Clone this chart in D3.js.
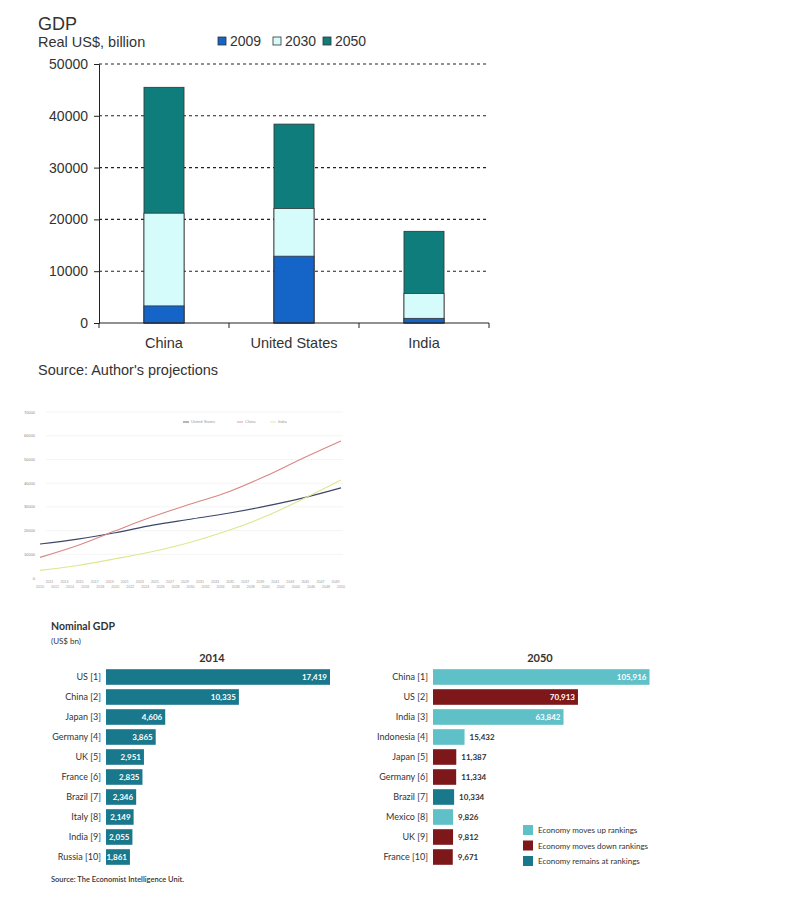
<!DOCTYPE html>
<html lang="en">
<head>
<meta charset="UTF-8">
<title>GDP projections</title>
<script src="https://cdn.jsdelivr.net/npm/d3@7"></script>
<style>
  body { margin: 0; background: #fff; }
  svg text { font-family: "Liberation Sans", Arial, sans-serif; }
  .eiu text { font-family: Lato, "Open Sans", sans-serif; }
</style>
</head>
<body>
<svg id="mainsvg" width="800" height="919"></svg>
<script>
// ---- chart 1: real GDP, overlapping bars ----
const gdpCountries = ["China", "United States", "India"];
const gdpYears = ["2009", "2030", "2050"];
const gdp2009 = [3300, 12900, 900];
const gdp2030 = [21200, 22100, 5700];
const gdp2050 = [45500, 38400, 17700];
const gdpTicks = [0, 10000, 20000, 30000, 40000, 50000];

// ---- chart 2: small line chart ----
const lineSeries = ["United States", "China", "India"];
const lineYears = [2010, 2015, 2020, 2025, 2030, 2035, 2040, 2045, 2050];
const lineUS = [14300, 16400, 19100, 22300, 24800, 27300, 30300, 33800, 38000];
const lineChina = [8700, 13700, 19900, 25900, 31200, 36300, 43000, 50600, 57800];
const lineIndia = [3200, 5300, 8100, 11200, 15100, 20000, 26000, 33400, 41300];
const lineTicks = [0, 10000, 20000, 30000, 40000, 50000, 60000, 70000];

// ---- chart 3: nominal GDP rankings ----
const rank2014 = ["US [1]", "China [2]", "Japan [3]", "Germany [4]", "UK [5]", "France [6]", "Brazil [7]", "Italy [8]", "India [9]", "Russia [10]"];
const value2014 = [17419, 10335, 4606, 3865, 2951, 2835, 2346, 2149, 2055, 1861];
const rank2050 = ["China [1]", "US [2]", "India [3]", "Indonesia [4]", "Japan [5]", "Germany [6]", "Brazil [7]", "Mexico [8]", "UK [9]", "France [10]"];
const value2050 = [105916, 70913, 63842, 15432, 11387, 11334, 10334, 9826, 9812, 9671];
const move2050 = ["up", "down", "up", "up", "down", "down", "same", "up", "down", "down"];
const moveLabels = ["Economy moves up rankings", "Economy moves down rankings", "Economy remains at rankings"];

const svg = d3.select('#mainsvg');
svg.append('rect').attr('width', 800).attr('height', 919).attr('fill', '#fff');

// ================= chart 1 =================
const c1 = svg.append('g');
const txt = '#333';

c1.append('text').attr('x', 38).attr('y', 30).attr('font-size', 18).attr('fill', txt).text('GDP');
c1.append('text').attr('x', 38).attr('y', 47).attr('font-size', 14.5).attr('fill', txt).text('Real US$, billion');

const barColor = {"2009": "#1565c8", "2030": "#d6fbfb", "2050": "#0f7d7b"};

const x1 = d3.scaleBand().domain(gdpCountries).range([99, 489]).paddingInner(0.692).paddingOuter(0.346);
const y1 = d3.scaleLinear().domain([0, 50000]).range([323, 64]);

// gridlines
c1.append('g').selectAll('line').data(gdpTicks.slice(1)).join('line')
  .attr('x1', 99).attr('x2', 489)
  .attr('y1', d => y1(d)).attr('y2', d => y1(d))
  .attr('stroke', '#222').attr('stroke-width', 1.1).attr('stroke-dasharray', '3,3');

const yAxis1 = c1.append('g').attr('transform', 'translate(99,0)')
  .call(d3.axisLeft(y1).tickValues(gdpTicks).tickSize(5).tickPadding(6).tickFormat(d3.format('d')));
yAxis1.select('.domain').attr('stroke', '#222');
yAxis1.selectAll('line').attr('stroke', '#222');
yAxis1.selectAll('text').attr('font-size', 14).attr('fill', txt).attr('font-family', '"Liberation Sans", Arial, sans-serif');

// bars: largest first so smaller ones sit on top
const barSets = [["2050", gdp2050], ["2030", gdp2030], ["2009", gdp2009]];
barSets.forEach(([yr, vals]) => {
  c1.append('g').selectAll('rect').data(vals).join('rect')
    .attr('x', (d, i) => x1(gdpCountries[i]))
    .attr('width', x1.bandwidth())
    .attr('y', d => y1(d))
    .attr('height', d => y1(0) - y1(d))
    .attr('fill', barColor[yr])
    .attr('stroke', '#333').attr('stroke-width', 0.8);
});

// x axis with ticks at category borders
c1.append('line').attr('x1', 99).attr('x2', 489).attr('y1', y1(0)).attr('y2', y1(0)).attr('stroke', '#222');
c1.append('g').selectAll('line').data(d3.range(gdpCountries.length + 1)).join('line')
  .attr('x1', i => 99 + i * x1.step()).attr('x2', i => 99 + i * x1.step())
  .attr('y1', y1(0)).attr('y2', y1(0) + 5).attr('stroke', '#222');
c1.append('g').selectAll('text').data(gdpCountries).join('text')
  .attr('x', d => x1(d) + x1.bandwidth() / 2).attr('y', 348)
  .attr('text-anchor', 'middle').attr('font-size', 14.5).attr('fill', txt)
  .text(d => d);

// legend
const legX = [218, 273, 323];
const leg1 = c1.append('g').selectAll('g').data(gdpYears).join('g')
  .attr('transform', (d, i) => `translate(${legX[i]},37)`);
leg1.append('rect').attr('width', 8).attr('height', 8).attr('fill', d => barColor[d]).attr('stroke', '#333').attr('stroke-width', 0.8);
leg1.append('text').attr('x', 12).attr('y', 8.5).attr('font-size', 14).attr('fill', txt).text(d => d);

c1.append('text').attr('x', 38).attr('y', 375).attr('font-size', 14.5).attr('fill', txt).text("Source: Author's projections");

// ================= chart 2 =================
const c2 = svg.append('g');
const x2 = d3.scaleLinear().domain([2010, 2050]).range([40, 341]);
const y2 = d3.scaleLinear().domain([0, 70000]).range([578, 412]);

c2.append('g').selectAll('line').data(lineTicks.slice(1)).join('line')
  .attr('x1', 46).attr('x2', 343)
  .attr('y1', d => y2(d)).attr('y2', d => y2(d))
  .attr('stroke', '#f1f1f1').attr('stroke-width', 0.8);

c2.append('g').selectAll('text').data(lineTicks).join('text')
  .attr('x', 35).attr('y', d => y2(d) + 1.5)
  .attr('text-anchor', 'end').attr('font-size', 4).attr('fill', '#888')
  .text(d => d);

const allYears = d3.range(2010, 2051);
c2.append('g').selectAll('text').data(allYears).join('text')
  .attr('x', d => x2(d) + ((d - 2010) % 2 ? 2 : 0))
  .attr('y', d => (d - 2010) % 2 ? 583 : 588)
  .attr('text-anchor', 'middle').attr('font-size', 3.6).attr('fill', '#999')
  .text(d => d);

const lineColor = {"United States": "#3c4668", "China": "#d98683", "India": "#dfe68e"};
const lineData = {"United States": lineUS, "China": lineChina, "India": lineIndia};
const line2 = d3.line().x((d, i) => x2(lineYears[i])).y(d => y2(d)).curve(d3.curveMonotoneX);
lineSeries.forEach(s => {
  c2.append('path').datum(lineData[s]).attr('d', line2)
    .attr('fill', 'none').attr('stroke', lineColor[s]).attr('stroke-width', 1.1);
});

const legL = [[183, "United States"], [237, "China"], [270, "India"]];
legL.forEach(([lx, s]) => {
  c2.append('line').attr('x1', lx).attr('x2', lx + 6).attr('y1', 422).attr('y2', 422)
    .attr('stroke', lineColor[s]).attr('stroke-width', 0.8);
  c2.append('text').attr('x', lx + 8).attr('y', 423.3).attr('font-size', 4).attr('fill', '#999').text(s);
});

// ================= chart 3 =================
const c3 = svg.append('g').attr('class', 'eiu');
const dark = '#333';
const moveColor = {"up": "#5fc0c7", "down": "#7e1719", "same": "#1a788c"};

c3.append('text').attr('x', 51).attr('y', 630).attr('font-size', 10.5).attr('font-weight', 'bold').attr('fill', dark).text('Nominal GDP');
c3.append('text').attr('x', 51).attr('y', 644).attr('font-size', 8).attr('fill', dark).text('(US$ bn)');

const yRows = d3.scaleBand().domain(d3.range(10)).range([667, 867]).paddingInner(0.22).paddingOuter(0.11);

function rankPanel(g, x0, scale, names, vals, colorOf, title, titleX, insideMin) {
  g.append('text').attr('x', titleX).attr('y', 661.5).attr('text-anchor', 'middle')
    .attr('font-size', 11).attr('font-weight', 'bold').attr('fill', dark).text(title);
  g.append('g').selectAll('text').data(names).join('text')
    .attr('x', x0 - 5).attr('y', (d, i) => yRows(i) + yRows.bandwidth() / 2 + 3)
    .attr('text-anchor', 'end').attr('font-size', 9).attr('fill', dark).text(d => d);
  g.append('g').selectAll('rect').data(vals).join('rect')
    .attr('x', x0).attr('y', (d, i) => yRows(i))
    .attr('width', d => scale(d)).attr('height', yRows.bandwidth())
    .attr('fill', (d, i) => colorOf(i));
  g.append('g').selectAll('text').data(vals).join('text')
    .attr('x', d => d >= insideMin ? x0 + scale(d) - 3 : x0 + scale(d) + 5)
    .attr('y', (d, i) => yRows(i) + yRows.bandwidth() / 2 + 2.8)
    .attr('text-anchor', d => d >= insideMin ? 'end' : 'start')
    .attr('font-size', 8).attr('font-weight', 'bold')
    .attr('fill', d => d >= insideMin ? '#fff' : dark)
    .text(d => d3.format(',')(d));
}

const xLeft = d3.scaleLinear().domain([0, 17419]).range([0, 224]);
rankPanel(c3, 106, xLeft, rank2014, value2014, () => moveColor.same, '2014', 212, 0);

const xRight = d3.scaleLinear().domain([0, 105916]).range([0, 216.5]);
rankPanel(c3, 433, xRight, rank2050, value2050, i => moveColor[move2050[i]], '2050', 540, 20000);

const legKeys = ["up", "down", "same"];
const leg3 = c3.append('g').selectAll('g').data(legKeys).join('g')
  .attr('transform', (d, i) => `translate(523,${825 + i * 15.5})`);
leg3.append('rect').attr('width', 10).attr('height', 10).attr('fill', d => moveColor[d]);
leg3.append('text').attr('x', 15).attr('y', 8).attr('font-size', 8).attr('fill', dark).text((d, i) => moveLabels[i]);

c3.append('text').attr('x', 51).attr('y', 882).attr('font-size', 7.5).attr('font-weight', 600).attr('fill', dark)
  .text('Source: The Economist Intelligence Unit.');
</script>
</body>
</html>
